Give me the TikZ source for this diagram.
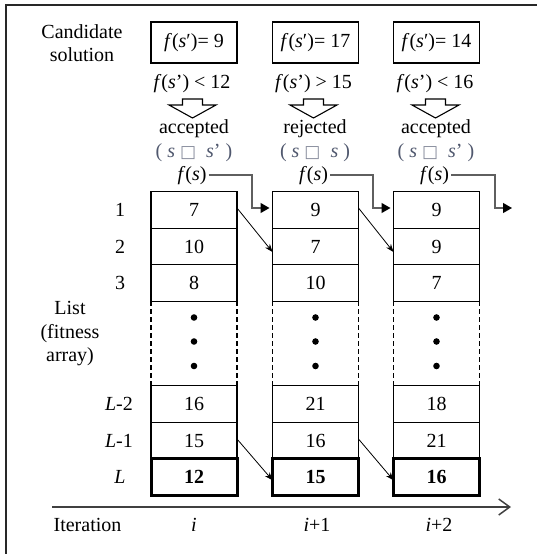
\documentclass[tikz,border=0pt]{standalone}
\usepackage{fontspec}
\setmainfont{Liberation Serif}
\newfontfamily\symfont{DejaVu Sans}
\usetikzlibrary{arrows.meta}
\definecolor{conngray}{RGB}{95,95,95}
\definecolor{subgray}{RGB}{80,88,110}
\definecolor{framegray}{RGB}{40,40,40}
\newcommand\sqglyph{{\symfont\fontsize{17}{17}\selectfont\color{subgray!70}□}}
\tikzset{
  cell/.style={draw, line width=1.3pt, minimum width=86pt, minimum height=36.5pt, inner sep=0pt, outer sep=0pt},
  lastcell/.style={cell, line width=3pt, minimum height=37pt, font=\fontsize{20}{23}\selectfont\bfseries},
  dotcell/.style={minimum width=86pt, minimum height=84.5pt, inner sep=0pt, outer sep=0pt},
  cand/.style={draw, line width=1.3pt, minimum width=86pt, minimum height=41pt, inner sep=0pt},
  lbl/.style={anchor=base, inner sep=0pt},
  sublbl/.style={anchor=base, inner sep=0pt, text=subgray},
  fslbl/.style={anchor=base, inner sep=2pt},
  conn/.style={conngray, line width=1.3pt, -{Triangle[length=9pt,width=10pt,color=black]}, shorten >=3pt},
  diag/.style={black, line width=0.8pt, -{Stealth[length=8pt,width=6pt]}},
  hollow/.style={draw, line width=1.1pt, fill=white},
  dashside/.style={line width=1.3pt, dash pattern=on 5pt off 3pt}
}
\begin{document}
\begin{tikzpicture}[x=1pt, y=-1pt, font=\fontsize{20}{23}\selectfont]
\useasboundingbox (0,0) rectangle (537,554);
% frame
\draw[line width=2pt, framegray] (537,5) -- (6,5) -- (6,554);

% header
\node[align=center, inner sep=0pt] (candlbl) at (82,43) {Candidate\\solution};

\node[cand] (q1) at (194,42.5) {\textit{f}(\textit{s}′)= 9};
\node[cand] (q2) at (315.5,42.5) {\textit{f}(\textit{s}′)= 17};
\node[cand] (q3) at (436.5,42.5) {\textit{f}(\textit{s}′)= 14};

\node[lbl] (t1) at (192,88) {\textit{f}(\textit{s}') < 12};
\node[lbl] (t2) at (313.5,88) {\textit{f}(\textit{s}') > 15};
\node[lbl] (t3) at (435,88) {\textit{f}(\textit{s}') < 16};

% hollow arrows
\foreach \ax in {192.5,313.5,435.5} {
  \draw[hollow] (\ax-10,99) -- (\ax+10,99) -- (\ax+10,105) -- (\ax+23.5,105)
     -- (\ax,118) -- (\ax-23.5,105) -- (\ax-10,105) -- cycle;
}

\node[lbl] (a1) at (194,133) {accepted};
\node[lbl] (a2) at (315,133) {rejected};
\node[lbl] (a3) at (436,133) {accepted};

\node[sublbl] (u1) at (194,157) {( \textit{s} \sqglyph\ \ \textit{s}' )};
\node[sublbl] (u2) at (315,157) {( \textit{s} \sqglyph\ \ \textit{s} )};
\node[sublbl] (u3) at (436,157) {( \textit{s} \sqglyph\ \ \textit{s}' )};

\node[fslbl] (fs1) at (192,180) {\textit{f}(\textit{s})};
\node[fslbl] (fs2) at (313.5,180) {\textit{f}(\textit{s})};
\node[fslbl] (fs3) at (434.5,180) {\textit{f}(\textit{s})};

% row labels
\node (rl1) at (120,210) {1};
\node (rl2) at (120,246.5) {2};
\node (rl3) at (120,283) {3};
\node[anchor=east, inner sep=0pt] (rl4) at (133,404) {\textit{L}-2};
\node[anchor=east, inner sep=0pt] (rl5) at (133,440.5) {\textit{L}-1};
\node (rl6) at (120,477.25) {\textit{L}};
\node[align=center, inner sep=0pt, font=\fontsize{20}{23.5}\selectfont] (listlbl) at (70,334) {List\\(fitness\\array)};

% columns
\foreach \k/\x/\va/\vb/\vc/\vd/\ve/\vf in {1/194/7/10/8/16/15/12, 2/315.5/9/7/10/21/16/15, 3/436.5/9/9/7/18/21/16} {
  \node[cell] (c\k r1) at (\x,210) {\va};
  \node[cell] (c\k r2) at (\x,246.5) {\vb};
  \node[cell] (c\k r3) at (\x,283) {\vc};
  \node[dotcell] (d\k) at (\x,343.5) {};
  \draw[dashside] (d\k.north west) -- (d\k.south west);
  \draw[dashside] (d\k.north east) -- (d\k.south east);
  \fill ([yshift=26pt]d\k.center) circle (3.3pt);
  \fill ([yshift=2pt]d\k.center) circle (3.3pt);
  \fill ([yshift=-22.5pt]d\k.center) circle (3.3pt);
  \node[cell] (c\k r4) at (\x,404) {\vd};
  \node[cell] (c\k r5) at (\x,440.5) {\ve};
  \node[lastcell] (c\k r6) at (\x,477.25) {\vf};
}

% f(s) connectors
\coordinate (k1) at (252,208);
\coordinate (k2) at (373,208);
\coordinate (k3) at (495,208);
\coordinate (e3) at (515,208);
\draw[conn] (fs1.east) -| (k1) -- (c2r1.west |- k1);
\draw[conn] (fs2.east) -| (k2) -- (c3r1.west |- k2);
\draw[conn] (fs3.east) -| (k3) -- (e3);

% shifting arrows
\draw[diag] ([yshift=2pt]c1r1.east) -- ([yshift=-5.5pt]c2r2.west);
\draw[diag] ([yshift=2pt]c2r1.east) -- ([yshift=-5.5pt]c3r2.west);
\draw[diag] ([yshift=1.5pt]c1r5.east) -- ([yshift=-3pt]c2r6.west);
\draw[diag] ([yshift=1.5pt]c2r5.east) -- ([yshift=-3pt]c3r6.west);

% iteration axis
\coordinate (ax0) at (52,507);
\coordinate (ax1) at (511,507);
\draw[line width=1.5pt, black!75, -{Straight Barb[length=11pt,width=16pt]}] (ax0) -- (ax1);

\node[lbl] (itlbl) at (87.5,531) {Iteration};
\node[lbl] (i1) at (194,531) {\textit{i}};
\node[lbl] (i2) at (317,531) {\textit{i}+1};
\node[lbl] (i3) at (439,531) {\textit{i}+2};
\end{tikzpicture}
\end{document}
